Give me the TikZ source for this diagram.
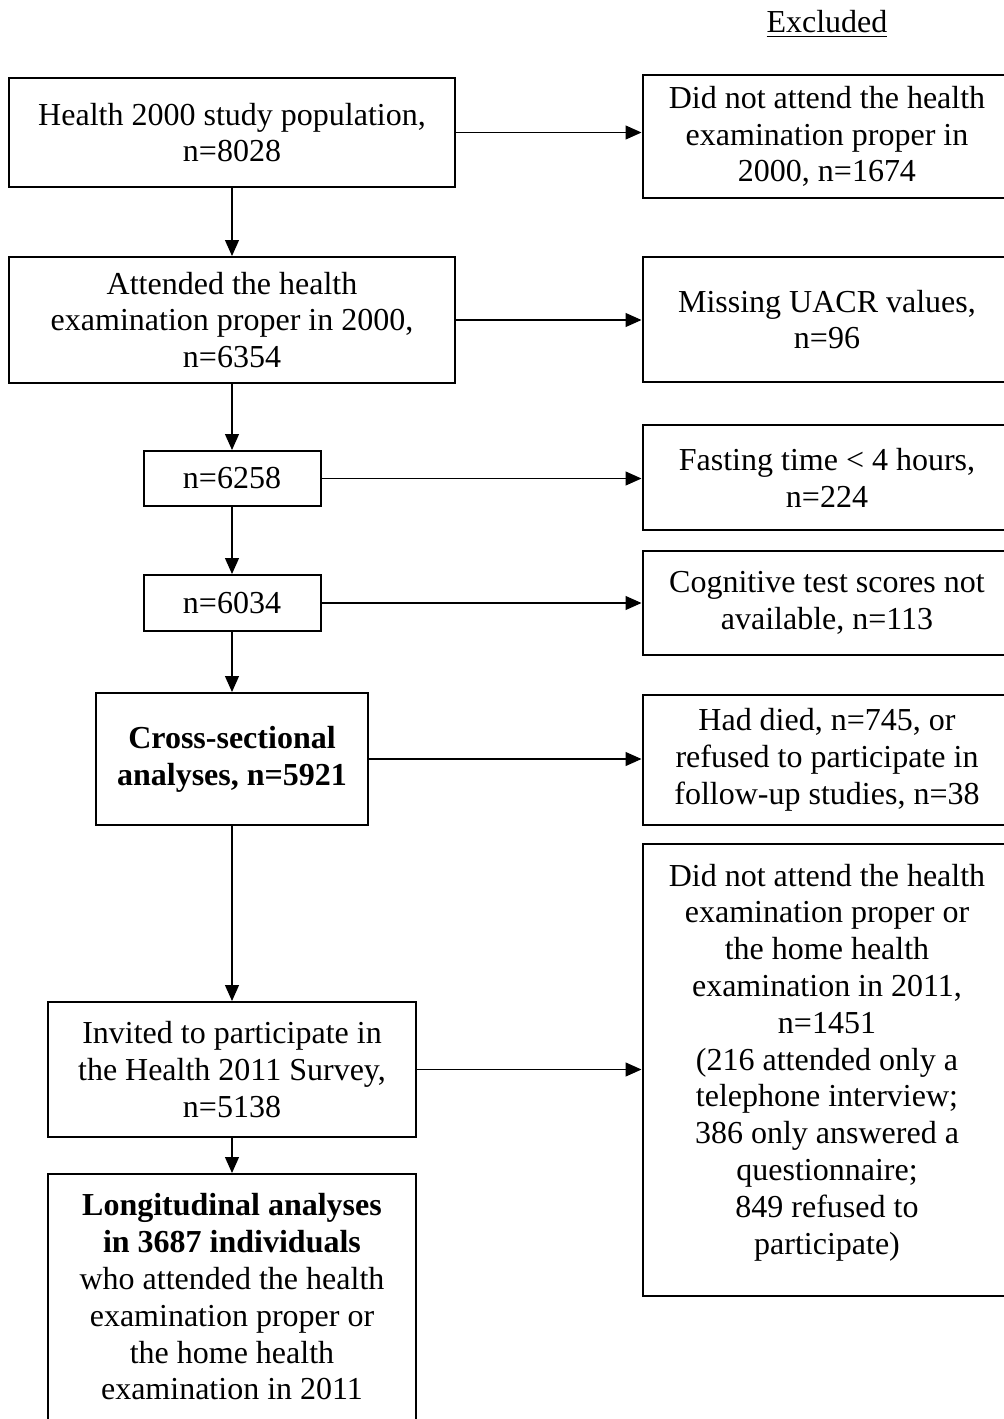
\documentclass[tikz,border=0pt]{standalone}
\usepackage{fontspec}
\setmainfont{Liberation Serif}
\usepackage{tikz}
\usetikzlibrary{arrows.meta, positioning}

\begin{document}
\begin{tikzpicture}[x=0.5pt, y=-0.5pt,
  every node/.style={font=\fontsize{16}{18.4}\selectfont, align=center},
  box/.style={draw, line width=1pt, inner sep=0pt},
  exbox/.style={box, minimum width=184.5pt},
  flow/.style={-{Triangle[length=8pt,width=7pt]}, line width=0.6pt}]
  \useasboundingbox (0,0) rectangle (1004,1419);
  % ---------- HEADER ----------
  \node (excl) at (827,24) {\underline{Excluded}};
  % ---------- LEFT COLUMN: included ----------
  \node[box, minimum width=223pt, minimum height=54.5pt] (pop) at (232,132.5)
    {Health 2000 study population,\\n=8028};
  \node[box, minimum width=223pt, minimum height=63pt] (att) at (232,320)
    {Attended the health\\examination proper in 2000,\\n=6354};
  \node[box, minimum width=88.5pt, minimum height=27.5pt] (uacr) at (232,478.5) {n=6258};
  \node[box, minimum width=88.5pt, minimum height=28pt] (fast) at (232,603) {n=6034};
  \node[box, minimum width=136pt, minimum height=66pt] (cross) at (232,759)
    {\textbf{Cross-sectional}\\\textbf{analyses, n=5921}};
  \node[box, minimum width=184pt, minimum height=67.5pt] (inv) at (232,1069.5)
    {Invited to participate in\\the Health 2011 Survey,\\n=5138};
  \node[box, minimum width=184pt, minimum height=123pt] (long) at (232,1297)
    {\textbf{Longitudinal analyses}\\\textbf{in 3687 individuals}\\who attended the health\\
     examination proper or\\the home health\\examination in 2011};
  % ---------- RIGHT COLUMN: excluded ----------
  \node[exbox, minimum height=61.5pt] (nohe) at (827,136.5)
    {Did not attend the health\\examination proper in\\2000, n=1674};
  \node[exbox, minimum height=62.5pt] (miss) at (827,319.5)
    {Missing UACR values,\\n=96};
  \node[exbox, minimum height=52.5pt] (fasting) at (827,477.5)
    {Fasting time < 4 hours,\\n=224};
  \node[exbox, minimum height=52pt] (cog) at (827,603)
    {Cognitive test scores not\\available, n=113};
  \node[exbox, minimum height=65pt] (died) at (827,760)
    {Had died, n=745, or\\refused to participate in\\follow-up studies, n=38};
  \node[exbox, minimum height=226pt, text depth=11pt] (noatt) at (827,1070)
    {Did not attend the health\\examination proper or\\the home health\\examination in 2011,\\n=1451\\
     (216 attended only a\\telephone interview;\\386 only answered a\\questionnaire;\\849 refused to\\participate)};
  % ---------- ARROWS ----------
  \draw[flow] (pop) -- (att);
  \draw[flow] (att) -- (uacr);
  \draw[flow] (uacr) -- (fast);
  \draw[flow] (fast) -- (cross);
  \draw[flow] (cross) -- (inv);
  \draw[flow] (inv) -- (long);
  \draw[flow] (pop.east) -- (pop.east -| nohe.west);
  \draw[flow] (att.east) -- (att.east -| miss.west);
  \draw[flow] (uacr.east) -- (uacr.east -| fasting.west);
  \draw[flow] (fast.east) -- (fast.east -| cog.west);
  \draw[flow] (cross.east) -- (cross.east -| died.west);
  \draw[flow] (inv.east) -- (inv.east -| noatt.west);
\end{tikzpicture}
\end{document}
